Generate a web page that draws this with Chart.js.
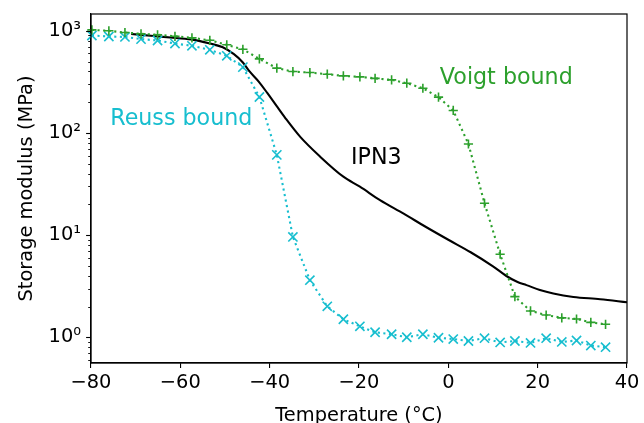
<!DOCTYPE html>
<html>
<head>
<meta charset="utf-8">
<script src="https://cdn.jsdelivr.net/npm/chart.js@4.4.0/dist/chart.umd.min.js"></script>
<style>
html, body { margin: 0; padding: 0; overflow: hidden; background: #fff; }
#wrap { width: 644px; height: 440px; position: relative; }
</style>
</head>
<body>
<div id="wrap"><canvas id="chart"></canvas></div>
<script>
// measurement temperatures shared by both bounds (°C)
const temps = [-79.8, -76.0, -72.4, -68.8, -65.1, -61.2, -57.4, -53.4, -49.6, -46.0,
               -42.3, -38.4, -34.8, -31.0, -27.1, -23.5, -19.8, -16.4, -12.7, -9.3,
               -5.7, -2.2, 1.1, 4.5, 8.1, 11.6, 14.9, 18.4, 21.9, 25.4,
               28.7, 31.9, 35.2];

// storage modulus (MPa)
const voigt = [1020, 1000, 962, 934, 914, 883, 853, 807, 729, 659,
               531, 431, 399, 390, 376, 362, 354, 342, 331, 307,
               274, 224, 166, 78, 20.5, 6.5, 2.5, 1.81, 1.65, 1.55,
               1.51, 1.40, 1.34];

const reuss = [900, 879, 871, 829, 804, 750, 713, 651, 569, 441,
               225, 61, 9.6, 3.62, 2.01, 1.50, 1.28, 1.12, 1.07, 1.0,
               1.07, 0.99, 0.96, 0.92, 0.98, 0.89, 0.92, 0.88, 0.98, 0.90,
               0.93, 0.83, 0.80];

// measured IPN3 curve
const ipnTemps = [-71, -66, -61, -57, -53.4, -50.5, -48, -46, -44.5, -42.5,
                  -40.5, -38.5, -36.5, -33.2, -28.7, -23.5, -19.8, -15.3, -10, -5,
                  0, 5, 10, 13, 15.5, 17.5, 20.5, 23.5, 28, 34, 40];
const ipnModulus = [930, 890, 850, 815, 750, 690, 590, 490, 400, 320,
                    245, 185, 140, 92, 58.6, 37.3, 29.8, 22, 16.2, 12.0,
                    9.0, 6.8, 4.95, 3.98, 3.47, 3.24, 2.9, 2.68, 2.48, 2.36, 2.2];

const xTickValues = [-80, -60, -40, -20, 0, 20, 40];
const yDecades = [1, 10, 100, 1000];
const yTickLabels = ['10⁰', '10¹', '10²', '10³'];

// in-plot labels
const noteTexts = ['Reuss bound', 'Voigt bound', 'IPN3'];
const noteT = [-75.7, -1.9, -21.8];
const noteV = [120, 302, 50];
const noteColors = ['#17becf', '#2ca02c', '#000000'];

const GREEN = '#2ca02c';
const CYAN = '#17becf';

const pairs = (xs, ys) => xs.map((x, i) => ({ x: x, y: ys[i] }));

Chart.defaults.font.family = "'DejaVu Sans', sans-serif";
Chart.defaults.font.size = 19.4;
Chart.defaults.color = '#000';

const framePlugin = {
    id: 'frame',
    afterDatasetsDraw(chart) {
        const ctx = chart.ctx;
        const a = chart.chartArea;
        const ys = chart.scales.y;
        const xs = chart.scales.x;
        ctx.save();

        // minor + major ticks on the log axis
        ctx.strokeStyle = '#000';
        for (let e = -1; e <= 3; e++) {
            for (let k = 1; k <= 9; k++) {
                const v = k * Math.pow(10, e);
                if (v < ys.min || v > ys.max) continue;
                const py = Math.round(ys.getPixelForValue(v)) + 0.5;
                const len = k === 1 ? 4.9 : 2.8;
                ctx.lineWidth = k === 1 ? 1.1 : 0.9;
                ctx.beginPath();
                ctx.moveTo(a.left - len, py);
                ctx.lineTo(a.left, py);
                ctx.stroke();
            }
        }

        // axes box
        ctx.lineWidth = 1.2;
        ctx.strokeRect(a.left, a.top, a.right - a.left, a.bottom - a.top);

        // text labels
        ctx.font = "22.2px 'DejaVu Sans', sans-serif";
        ctx.textAlign = 'left';
        ctx.textBaseline = 'alphabetic';
        noteTexts.forEach((t, i) => {
            ctx.fillStyle = noteColors[i];
            ctx.fillText(t, xs.getPixelForValue(noteT[i]), ys.getPixelForValue(noteV[i]));
        });
        ctx.restore();
    }
};

new Chart(document.getElementById('chart'), {
    type: 'line',
    data: {
        datasets: [
            {
                label: 'Voigt bound',
                data: pairs(temps, voigt),
                borderColor: GREEN,
                backgroundColor: GREEN,
                borderWidth: 2.1,
                borderDash: [2.1, 3.5],
                pointStyle: 'cross',
                pointRadius: 4.6,
                pointBorderWidth: 1.6,
                pointBorderColor: GREEN,
                tension: 0,
                clip: 8
            },
            {
                label: 'Reuss bound',
                data: pairs(temps, reuss),
                borderColor: CYAN,
                backgroundColor: CYAN,
                borderWidth: 2.1,
                borderDash: [2.1, 3.5],
                pointStyle: 'crossRot',
                pointRadius: 6.5,
                pointBorderWidth: 1.6,
                pointBorderColor: CYAN,
                tension: 0,
                clip: 8
            },
            {
                label: 'IPN3',
                data: pairs(ipnTemps, ipnModulus),
                borderColor: '#000',
                borderWidth: 2.1,
                pointRadius: 0,
                cubicInterpolationMode: 'monotone'
            }
        ]
    },
    options: {
        responsive: true,
        maintainAspectRatio: false,
        animation: false,
        layout: { padding: { left: 0, right: 17, top: 14, bottom: 0 } },
        plugins: { legend: { display: false }, tooltip: { enabled: false } },
        scales: {
            x: {
                type: 'linear',
                min: -80,
                max: 40,
                afterFit: (s) => { s.height = 77; s.paddingLeft = 0; s.paddingRight = 0; },
                afterBuildTicks: (s) => { s.ticks = xTickValues.map(v => ({ value: v })); },
                ticks: {
                    padding: 3,
                    maxRotation: 0,
                    autoSkip: false,
                    callback: (v) => (v < 0 ? '\u2212' + Math.abs(v) : String(v))
                },
                grid: { display: true, drawOnChartArea: false, drawTicks: true, tickLength: 5, color: '#000', lineWidth: 1.1 },
                border: { display: true, color: '#000', width: 1.2 },
                title: { display: true, text: 'Temperature (°C)', padding: { top: 0, bottom: 12.4 } }
            },
            y: {
                type: 'logarithmic',
                min: 0.56,
                max: 1460,
                afterFit: (s) => { s.width = 91; s.paddingTop = 0; s.paddingBottom = 0; },
                ticks: {
                    padding: 2,
                    autoSkip: false,
                    callback: (v) => {
                        const i = yDecades.findIndex(d => Math.abs(d - v) / d < 1e-6);
                        return i >= 0 ? yTickLabels[i] : '';
                    }
                },
                grid: { display: false },
                border: { display: true, color: '#000', width: 1.2 },
                title: { display: true, text: 'Storage modulus (MPa)', padding: { top: 15.4, bottom: 0 } }
            }
        }
    },
    plugins: [framePlugin]
});
</script>
</body>
</html>
